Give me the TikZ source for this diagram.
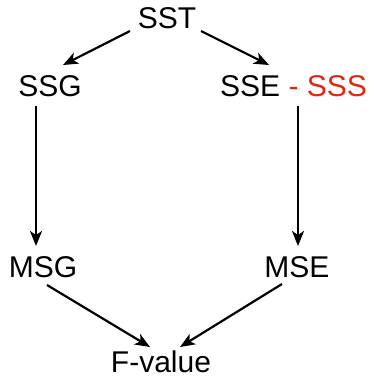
\documentclass[tikz,border=0pt]{standalone}
\usepackage{fontspec}
\setmainfont{Liberation Sans}
\usetikzlibrary{arrows.meta}
\definecolor{sssred}{RGB}{224,40,16}
\begin{document}
\begin{tikzpicture}[x=1pt,y=1pt,
  lbl/.style={anchor=base,inner sep=0pt,font=\fontsize{30}{32}\selectfont},
  arr/.style={line width=2.2pt,-{Stealth[length=15pt,width=12pt,inset=4pt]}}]
\useasboundingbox (0,0) rectangle (373,-377);
\node[lbl] (SST) at (167,-29) {SST};
\node[lbl] (SSG) at (50,-97) {SSG};
\node[lbl,anchor=base west] (SSE) at (220,-97) {SSE \textcolor{sssred}{- SSS}};
\node[lbl] (MSG) at (43,-277) {MSG};
\node[lbl] (MSE) at (297,-277) {MSE};
\node[lbl] (F) at (161,-372) {F-value};
% connector ends
\coordinate (a1) at (130,-31); \coordinate (b1) at (63,-65);
\coordinate (a2) at (201,-31); \coordinate (b2) at (269,-65);
\coordinate (a3) at (36,-106); \coordinate (b3) at (36,-246);
\coordinate (a4) at (298,-106); \coordinate (b4) at (298,-246);
\coordinate (a5) at (47,-285); \coordinate (b5) at (150,-347);
\coordinate (a6) at (282,-284); \coordinate (b6) at (180,-347);
\draw[arr] (a1) -- (b1);
\draw[arr] (a2) -- (b2);
\draw[arr] (a3) -- (b3);
\draw[arr] (a4) -- (b4);
\draw[arr] (a5) -- (b5);
\draw[arr] (a6) -- (b6);
\end{tikzpicture}
\end{document}
